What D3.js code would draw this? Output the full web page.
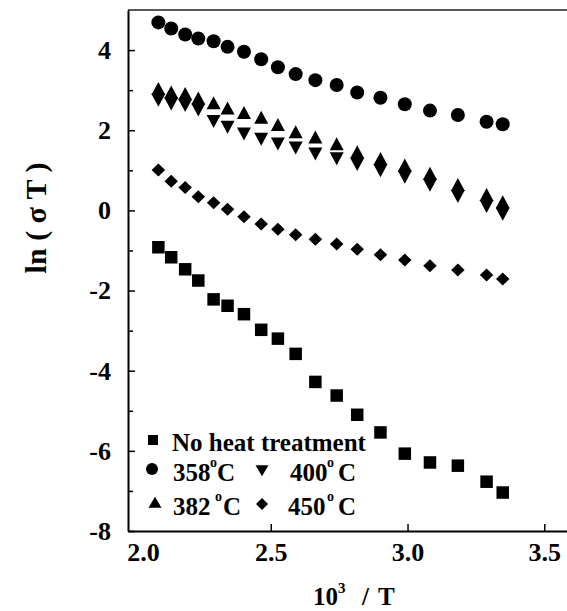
<!DOCTYPE html>
<html>
<head>
<meta charset="utf-8">
<script src="https://cdn.jsdelivr.net/npm/d3@7"></script>
<style>
  body { margin: 0; background: #fff; }
  svg text { font-family: "Liberation Serif", "Times New Roman", serif; font-weight: bold; fill: #000; }
  .axis path, .axis line { stroke: #000; }
  .axis path { stroke-width: 2; }
  .axis line { stroke-width: 1.5; }
</style>
</head>
<body>
<div id="chart"></div>
<script>
(function() {

  // 10^3 / T, shared by all series
  var invT = [2.089, 2.136, 2.187, 2.235, 2.291, 2.342, 2.402, 2.465, 2.526, 2.591,
              2.663, 2.741, 2.816, 2.901, 2.990, 3.082, 3.184, 3.289, 3.348];

  // ln(sigma T) per treatment
  var noHeat = [-0.92, -1.17, -1.47, -1.75, -2.22, -2.38, -2.59, -2.98, -3.20, -3.58,
                -4.28, -4.62, -5.10, -5.54, -6.07, -6.29, -6.37, -6.77, -7.04];
  var t358 = [4.69, 4.54, 4.39, 4.29, 4.22, 4.08, 3.96, 3.77, 3.57, 3.40,
              3.25, 3.13, 2.94, 2.81, 2.65, 2.49, 2.38, 2.21, 2.15];
  var t382 = [2.99, 2.90, 2.86, 2.75, 2.63, 2.50, 2.39, 2.27, 2.09, 1.91,
              1.78, 1.61, 1.41, 1.24, 1.08, 0.87, 0.59, 0.34, 0.16];
  var t400 = [2.80, 2.71, 2.67, 2.56, 2.27, 2.13, 1.96, 1.83, 1.71, 1.61,
              1.46, 1.34, 1.20, 1.04, 0.88, 0.68, 0.40, 0.15, -0.04];
  var t450 = [1.01, 0.73, 0.57, 0.34, 0.19, 0.03, -0.16, -0.34, -0.47, -0.61,
              -0.72, -0.84, -0.97, -1.11, -1.24, -1.38, -1.49, -1.61, -1.71];

  var xTickValues = [2.0, 2.5, 3.0, 3.5];
  var yTickValues = [-8, -6, -4, -2, 0, 2, 4];
  var yMinorValues = [-7, -5, -3, -1, 1, 3];

  var width = 567, height = 611,
      margin = { top: 10, right: 0, bottom: 80, left: 128 },
      innerW = width - margin.left - margin.right,
      innerH = height - margin.top - margin.bottom;

  // marker outlines, sized in pixels
  var shape = function(kind, w, h) {
    return { draw: function(c) {
      if (kind === "square") {
        c.rect(-w / 2, -h / 2, w, h);
      } else if (kind === "circle") {
        c.moveTo(w / 2, 0);
        c.arc(0, 0, w / 2, 0, 2 * Math.PI);
      } else if (kind === "up") {
        c.moveTo(0, -2 * h / 3); c.lineTo(w / 2, h / 3); c.lineTo(-w / 2, h / 3); c.closePath();
      } else if (kind === "down") {
        c.moveTo(0, 2 * h / 3); c.lineTo(w / 2, -h / 3); c.lineTo(-w / 2, -h / 3); c.closePath();
      } else {
        c.moveTo(0, -h / 2); c.lineTo(w / 2, 0); c.lineTo(0, h / 2); c.lineTo(-w / 2, 0); c.closePath();
      }
    }};
  };

  var series = [
    { values: noHeat, type: shape("square", 12.5, 12.5) },
    { values: t450,   type: shape("diamond", 13.5, 13) },
    { values: t358,   type: shape("circle", 14, 14) },
    { values: t382,   type: shape("up", 14, 13) },
    { values: t400,   type: shape("down", 14, 13) }
  ];

  var svg = d3.select("#chart").append("svg")
      .attr("width", width)
      .attr("height", height);

  var g = svg.append("g")
      .attr("transform", "translate(" + margin.left + "," + margin.top + ")");

  var x = d3.scaleLinear().domain([1.978, 3.583]).range([0, innerW]);
  var y = d3.scaleLinear().domain([-8, 5]).range([innerH, 0]);

  // top frame
  g.append("line")
      .attr("x1", 0).attr("x2", innerW)
      .attr("y1", 0).attr("y2", 0)
      .attr("stroke", "#222").attr("stroke-width", 1.5);

  // x axis, ticks pointing in
  var gx = g.append("g")
      .attr("class", "axis")
      .attr("transform", "translate(0," + innerH + ")")
      .call(d3.axisBottom(x).tickValues(xTickValues).tickSize(-7).tickSizeOuter(0)
        .tickPadding(12).tickFormat(d3.format(".1f")));
  gx.selectAll(".tick text").attr("font-size", 26);
  gx.selectAll(".tick").filter(function(d) { return d === 2.0; })
    .call(function(t) {
      t.select("line").remove();
      t.select("text").attr("dx", 9);
    });

  // y axis, plain hyphen for negatives
  var gy = g.append("g")
      .attr("class", "axis")
      .call(d3.axisLeft(y).tickValues(yTickValues).tickSize(-7).tickSizeOuter(0).tickPadding(17)
        .tickFormat(function(d) { return String(d); }));
  gy.selectAll(".tick text").attr("font-size", 26);

  g.append("g")
      .attr("class", "axis")
      .call(d3.axisLeft(y).tickValues(yMinorValues).tickSize(-5).tickFormat(""))
    .select(".domain").remove();

  // data
  g.selectAll(".series")
      .data(series)
    .enter().append("g")
      .attr("class", "series")
    .selectAll("path")
      .data(function(s) {
        return s.values.map(function(v, i) { return { x: invT[i], y: v, type: s.type }; });
      })
    .enter().append("path")
      .attr("transform", function(d) { return "translate(" + x(d.x) + "," + y(d.y) + ")"; })
      .attr("d", function(d) { return d3.symbol().type(d.type)(); })
      .attr("fill", "#000");

  // axis titles
  var xt = svg.append("text").attr("y", 605).attr("font-size", 25);
  xt.append("tspan").attr("x", 313).text("10");
  xt.append("tspan").attr("font-size", 15).attr("dy", -12).text("3");
  xt.append("tspan").attr("x", 362).attr("dy", 12).text("/");
  xt.append("tspan").attr("x", 378).text("T");

  svg.append("text")
      .attr("transform", "translate(46,218) rotate(-90)")
      .attr("text-anchor", "middle")
      .attr("font-size", 30)
      .text("ln ( \u03c3 T )");

  // legend
  var legendItems = [
    { type: shape("square", 10, 10), sx: 153, sy: 440, num: "No heat treatment", tx: 172, ty: 451 },
    { type: shape("circle", 12, 12), sx: 152, sy: 469, num: "358", tx: 173, ty: 481, ox: 210, cx: 217 },
    { type: shape("up", 13, 11),     sx: 155, sy: 504, num: "382", tx: 173, ty: 515, ox: 215, cx: 223 },
    { type: shape("down", 13, 11),   sx: 262, sy: 469, num: "400", tx: 290, ty: 481, ox: 327, cx: 338 },
    { type: shape("diamond", 12, 12), sx: 262, sy: 504, num: "450", tx: 288, ty: 515, ox: 327, cx: 338 }
  ];

  var leg = svg.selectAll(".legend")
      .data(legendItems)
    .enter().append("g")
      .attr("class", "legend");

  leg.append("path")
      .attr("transform", function(d) { return "translate(" + d.sx + "," + d.sy + ")"; })
      .attr("d", function(d) { return d3.symbol().type(d.type)(); })
      .attr("fill", "#000");

  var lt = leg.append("text")
      .attr("y", function(d) { return d.ty; })
      .attr("font-size", 25);
  lt.append("tspan").attr("x", function(d) { return d.tx; }).text(function(d) { return d.num; });
  lt.filter(function(d) { return d.ox; }).each(function(d) {
    var t = d3.select(this);
    t.append("tspan").attr("x", d.ox).attr("dy", -14).attr("font-size", 14).text("o");
    t.append("tspan").attr("x", d.cx).attr("dy", 14).text("C");
  });

}());
</script>
</body>
</html>
